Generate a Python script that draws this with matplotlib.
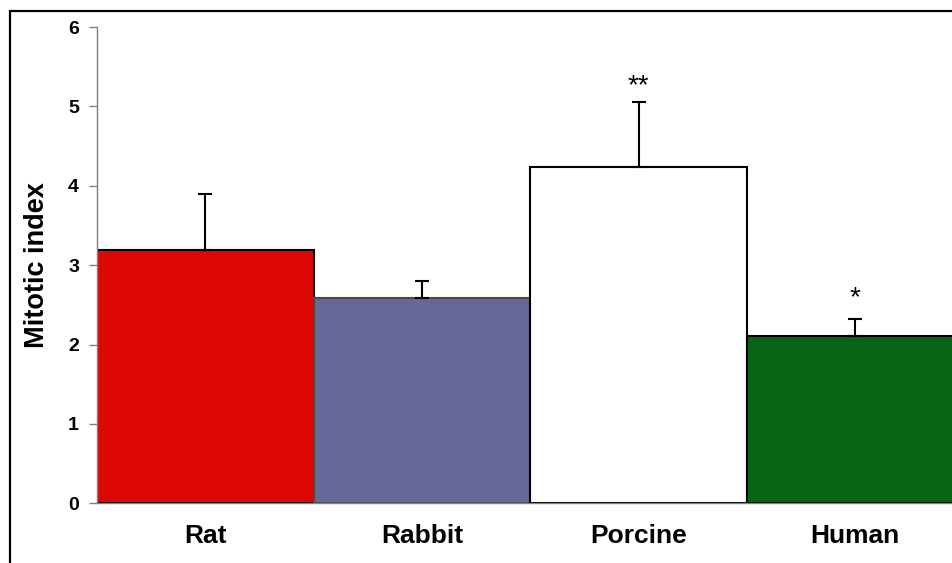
import matplotlib
matplotlib.use("Agg")
import matplotlib.pyplot as plt
from matplotlib.patches import Rectangle

plt.rcParams['font.family'] = ['Liberation Sans', 'DejaVu Sans']

# Data
species = ["Rat", "Rabbit", "Porcine", "Human"]
mitotic_index = [3.19, 2.58, 4.24, 2.11]
sd_upper = [0.70, 0.22, 0.81, 0.21]
significance = ["", "", "**", "*"]
y_ticks = [0, 1, 2, 3, 4, 5, 6]

bar_colors = ["#dd0806", "#686898", "#ffffff", "#066515"]
edge_colors = ["#000000", "#4a4a4a", "#000000", "#000000"]
star_offsets = [0, 0, 6.5, 10.0]  # points above the error bar cap

W, H = 953, 563
fig = plt.figure(figsize=(W / 100, H / 100), dpi=100)

# Outer frame (runs off the right and bottom edges)
fig.patches.append(Rectangle((10 / W, -0.2), 1.3, 1.2 - 10.5 / H,
                             transform=fig.transFigure, fill=False,
                             edgecolor="black", linewidth=1.6, zorder=0))

ax = fig.add_axes([97 / W, 59.7 / H, 866.7 / W, 476.3 / H])
x = list(range(len(species)))

ax.bar(x, mitotic_index, width=1.0, color=bar_colors,
       edgecolor=edge_colors, linewidth=1.5, zorder=2)
ax.errorbar(x, mitotic_index, yerr=[[0] * len(x), sd_upper], fmt="none",
            ecolor="black", elinewidth=1.5, capsize=4.7, capthick=1.5, zorder=3)

for xi, m, s, lab, off in zip(x, mitotic_index, sd_upper, significance, star_offsets):
    if lab:
        ax.annotate(lab, (xi, m + s), xytext=(0, off), textcoords="offset points",
                    ha="center", va="baseline", fontsize=20)

ax.set_xlim(-0.5, 3.5)
ax.set_ylim(0, 6)
ax.set_yticks(y_ticks)
ax.set_yticklabels([str(t) for t in y_ticks], fontsize=14, fontweight="bold")
ax.set_xticks(x)
ax.set_xticklabels(species, fontsize=19, fontweight="bold")
ax.tick_params(axis="x", length=0, pad=15)
ax.tick_params(axis="y", direction="out", length=6, width=1, color="#808080", pad=7)
ax.set_ylabel("Mitotic index", fontsize=19.5, fontweight="bold", labelpad=13)

for side in ("top", "right"):
    ax.spines[side].set_visible(False)
for side in ("left", "bottom"):
    ax.spines[side].set_color("#808080")
    ax.spines[side].set_linewidth(1.0)
ax.set_facecolor("none")

fig.savefig("out.png", dpi=100)
